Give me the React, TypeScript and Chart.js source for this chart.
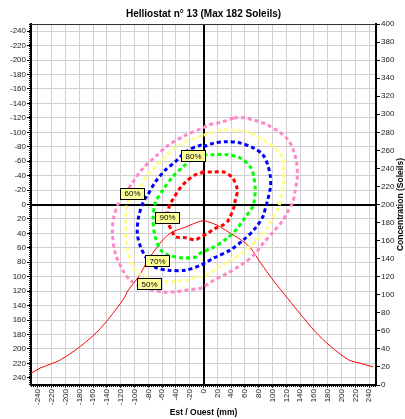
import React, { useEffect, useRef } from 'react';
import { Chart, registerables } from 'chart.js';
Chart.register(...registerables);

const FONT = '"Liberation Sans", Arial, Helvetica, sans-serif';

const chartTitle = 'Helliostat n° 13 (Max 182 Soleils)';
const xTitle = 'Est / Ouest (mm)';
const rightTitle = 'Concentration (Soleils)';

// tick values (mm) for bottom and left axes
const mmTicks = [-240, -220, -200, -180, -160, -140, -120, -100, -80, -60, -40, -20, 0, 20, 40, 60, 80, 100, 120, 140, 160, 180, 200, 220, 240];

// 50% contour (mm)
const c50X = [44, 58, 73, 93, 112, 123, 130, 135, 136, 133, 129, 122, 115, 101, 87, 73, 54, 35, 15, -4, -22, -41, -59, -84, -106, -117, -128, -132, -130, -123, -117, -103, -87, -70, -51, -26, -1, 6, 25];
const c50Y = [-120, -120, -117, -110, -99, -89, -76, -58, -38, -20, -2, 10, 22, 38, 53, 70, 84, 95, 105, 116, 118, 121, 121, 116, 105, 91, 67, 40, 17, -2, -10, -30, -51, -66, -82, -96, -106, -110, -114];
// 60% contour
const c60X = [0, 25, 44, 68, 87, 104, 115, 116, 116, 112, 109, 104, 94, 86, 73, 57, 39, 20, 0, -7, -26, -51, -74, -94, -103, -110, -113, -113, -109, -94, -81, -67, -51, -30, -7];
const c60Y = [-96, -103, -103, -99, -89, -78, -64, -48, -30, -10, 4, 12, 31, 42, 53, 67, 77, 88, 100, 100, 105, 107, 105, 95, 84, 63, 40, 17, -4, -20, -41, -55, -71, -85, -94];
// 70% contour
const c70X = [0, 15, 35, 54, 73, 86, 93, 97, 97, 93, 90, 86, 75, 58, 39, 15, -4, -26, -51, -70, -81, -91, -96, -94, -87, -81, -70, -55, -41, -26, -4];
const c70Y = [-80, -85, -87, -85, -78, -69, -55, -38, -24, -6, 4, 17, 33, 49, 63, 74, 84, 91, 91, 87, 77, 59, 40, 17, -4, -13, -31, -48, -59, -73, -82];
// 80% contour
const c80X = [0, 15, 35, 54, 68, 73, 75, 73, 71, 61, 49, 35, 15, -4, -12, -30, -51, -62, -70, -73, -70, -59, -45, -30, -12];
const c80Y = [-69, -69, -69, -64, -52, -38, -20, -2, 4, 17, 33, 46, 59, 67, 73, 74, 70, 63, 45, 22, -2, -20, -38, -52, -66];
// 90% contour
const c90X = [-4, 15, 29, 42, 49, 46, 44, 36, 29, 17, 6, -4, -12, -26, -41, -45, -51, -52, -48, -45, -36, -26, -12, 3];
const c90Y = [-45, -45, -45, -37, -20, -6, 4, 22, 28, 33, 40, 45, 49, 46, 45, 38, 26, 12, -2, -6, -20, -31, -41, -45];

// concentration profile (right axis, Soleils)
const profileX = [-250, -236, -222, -207, -178, -149, -117, -109, -94, -80, -67, -55, -44, -26, -7, 0, 6, 20, 35, 54, 68, 83, 101, 122, 141, 162, 184, 210, 228, 246];
const profileV = [13, 19, 23, 28, 43, 63, 94, 105, 120, 139, 153, 164, 170, 175, 181, 182, 181, 177, 170, 161, 152, 135, 116, 96, 78, 59, 43, 28, 24, 20];

// contour labels
const tagNames = ['80%', '60%', '90%', '70%', '50%'];
const tagX = [-14.5, -104, -53.6, -66.7, -79.7];
const tagY = [-67.2, -15.9, 18, 78.2, 110.1];

const zip = (xs: number[], ys: number[]) => xs.map((x, i) => ({ x, y: ys[i] }));
const closed = (xs: number[], ys: number[]) => {
  const p = zip(xs, ys);
  p.push({ ...p[0] });
  return p;
};

const decor = {
  id: 'decor',
  beforeDatasetsDraw(chart: any) {
    const { ctx, chartArea: a, scales } = chart;
    const x0 = Math.round(scales.x.getPixelForValue(0));
    const y0 = Math.round(scales.y.getPixelForValue(0));
    ctx.save();
    ctx.fillStyle = '#000';
    ctx.fillRect(x0 - 1, a.top, 2, a.bottom - a.top);
    ctx.fillRect(a.left, y0 - 1, a.right - a.left, 2);
    ctx.restore();
  },
  afterDatasetsDraw(chart: any) {
    const { ctx, scales } = chart;
    ctx.save();
    ctx.setLineDash([]);
    ctx.font = `8px ${FONT}`;
    ctx.textAlign = 'center';
    ctx.textBaseline = 'middle';
    tagNames.forEach((t, i) => {
      const cx = scales.x.getPixelForValue(tagX[i]);
      const cy = scales.y.getPixelForValue(tagY[i]);
      const w = 24, h = 11;
      ctx.fillStyle = '#ffff99';
      ctx.fillRect(Math.round(cx - w / 2) + 0.5, Math.round(cy - h / 2) + 0.5, w, h);
      ctx.strokeStyle = '#000';
      ctx.lineWidth = 1;
      ctx.strokeRect(Math.round(cx - w / 2) + 0.5, Math.round(cy - h / 2) + 0.5, w, h);
      ctx.fillStyle = '#000';
      ctx.fillText(t, Math.round(cx) + 0.5, Math.round(cy) + 1);
    });
    ctx.restore();
  },
  afterDraw(chart: any) {
    const { ctx, chartArea: a } = chart;
    ctx.save();
    ctx.setLineDash([]);
    ctx.fillStyle = '#333';
    ctx.fillRect(a.left, a.top, a.right - a.left, 1);
    ctx.fillStyle = '#000';
    for (let y = Math.round(a.top); y < a.bottom; y += 2) ctx.fillRect(a.left - 2, y, 1, 1);
    for (let x = Math.round(a.left); x < a.right; x += 2) ctx.fillRect(x, a.bottom + 1, 1, 1);
    ctx.textAlign = 'center';
    ctx.textBaseline = 'middle';
    ctx.font = `bold 10px ${FONT}`;
    ctx.fillText(chartTitle, (a.left + a.right) / 2, 14);
    ctx.font = `bold 8.5px ${FONT}`;
    ctx.fillText(xTitle, (a.left + a.right) / 2, 413);
    ctx.translate(401, (a.top + a.bottom) / 2);
    ctx.rotate(-Math.PI / 2);
    ctx.fillText(rightTitle, 0, 0);
    ctx.restore();
  },
};

export default function App() {
  const ref = useRef<HTMLCanvasElement | null>(null);
  useEffect(() => {
    if (!ref.current) return;
    const contour = (label: string, xs: number[], ys: number[], color: string) => ({
      label,
      data: closed(xs, ys),
      borderColor: color,
      backgroundColor: color,
      borderWidth: 3,
      borderDash: [4, 3],
      pointRadius: 0,
      showLine: true,
      fill: false,
      tension: 0.3,
      yAxisID: 'y',
    });
    const tickFont = { family: FONT, size: 8 };
    const setMmTicks = (s: any) => {
      s.ticks = mmTicks.map((v) => ({ value: v }));
    };
    const chart = new Chart(ref.current, {
      type: 'scatter',
      data: {
        datasets: [
          contour('50%', c50X, c50Y, '#ff88c8'),
          contour('60%', c60X, c60Y, '#ffff88'),
          contour('70%', c70X, c70Y, '#0000ff'),
          contour('80%', c80X, c80Y, '#00ff00'),
          contour('90%', c90X, c90Y, '#ff0000'),
          {
            label: 'Concentration',
            data: zip(profileX, profileV),
            borderColor: '#ff0000',
            backgroundColor: '#ff0000',
            borderWidth: 1,
            pointRadius: 0,
            showLine: true,
            fill: false,
            tension: 0.3,
            yAxisID: 'y2',
          } as any,
        ],
      },
      options: {
        animation: false,
        responsive: false,
        layout: { padding: { top: 24, left: 0, right: 0, bottom: 0 } },
        plugins: {
          legend: { display: false },
          tooltip: { enabled: false },
          title: { display: false },
        },
        scales: {
          x: {
            type: 'linear',
            position: 'bottom',
            min: -250,
            max: 250,
            afterBuildTicks: setMmTicks,
            afterFit: (s: any) => {
              s.height = 34;
            },
            ticks: {
              autoSkip: false,
              minRotation: 90,
              maxRotation: 90,
              padding: 1,
              color: '#222',
              font: tickFont,
            },
            grid: { color: '#d0d0d0', lineWidth: 1, tickLength: 3, tickColor: '#444' },
            border: { color: '#000', width: 2 },
          },
          y: {
            type: 'linear',
            position: 'left',
            reverse: true,
            min: -250,
            max: 250,
            afterBuildTicks: setMmTicks,
            afterFit: (s: any) => {
              s.width = 31;
            },
            ticks: { autoSkip: false, padding: 1, color: '#222', font: tickFont },
            grid: { color: '#d0d0d0', lineWidth: 1, tickLength: 4, tickColor: '#000' },
            border: { color: '#000', width: 2 },
          },
          y2: {
            type: 'linear',
            position: 'right',
            min: 0,
            max: 400,
            afterFit: (s: any) => {
              s.width = 29;
            },
            ticks: { stepSize: 20, autoSkip: false, padding: 1, color: '#222', font: tickFont },
            grid: { drawOnChartArea: false, tickLength: 4, tickColor: '#000' },
            border: { color: '#000', width: 2 },
          },
        },
      } as any,
      plugins: [decor],
    });
    return () => chart.destroy();
  }, []);
  return (
    <div style={{ position: 'absolute', left: 0, top: 0, width: 405, height: 419, background: '#fff' }}>
      <canvas ref={ref} width={405} height={419} style={{ display: 'block', width: 405, height: 419 }} />
    </div>
  );
}
